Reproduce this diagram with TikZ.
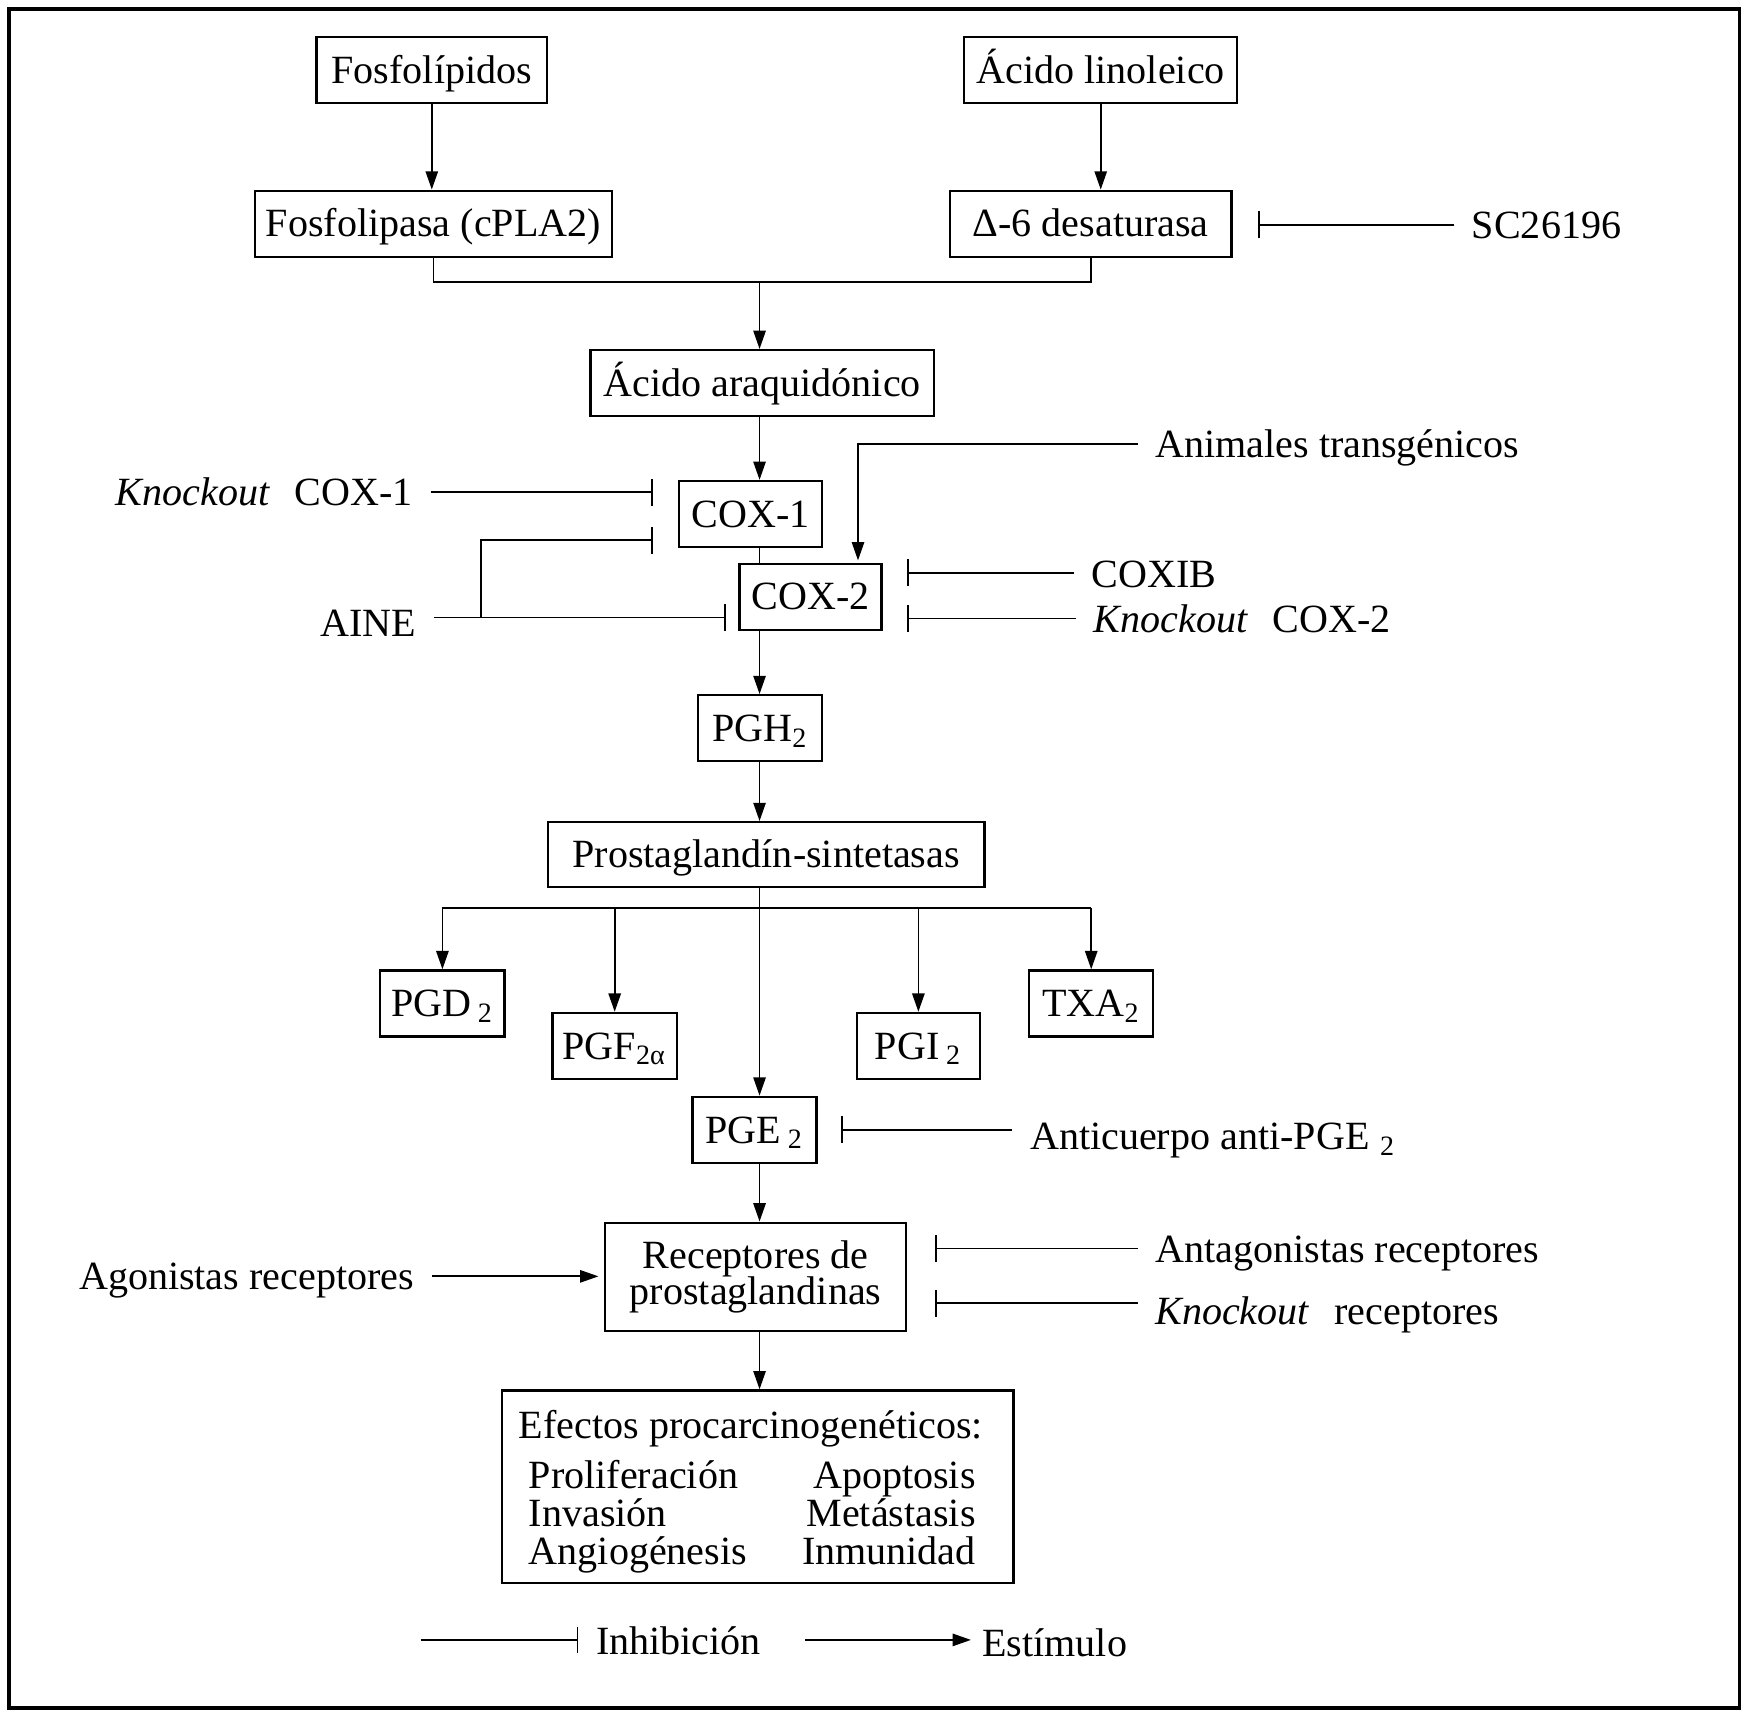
\documentclass[tikz,border=0pt]{standalone}
\usepackage{fontspec}
\setmainfont{Liberation Serif}
\usepackage{tikz}
\usetikzlibrary{arrows.meta}
\newlength{\pxunit}
\setlength{\pxunit}{0.011186cm}
\tikzset{
    box_style/.style={
        draw=black,            % borde de la caja
        line width=0.65pt,     % borde algo mas grueso que las flechas
        inner sep=0pt,
        minimum height=59\pxunit,
        text height=7.5pt,     % centra las mayusculas en la caja
        text depth=0pt
    },
    big_box/.style={
        draw=black,
        line width=0.65pt,
        inner sep=0pt
    },
    label_style/.style={
        inner xsep=4.8pt,      % hueco entre texto y linea
        inner ysep=0pt,
        text height=7.5pt,
        text depth=0pt
    },
    stim_arrow/.style={
        -{Triangle[length=5.2pt,width=3.5pt]}  % estimulo
    },
    inhib_arrow/.style={
        -{Bar[width=7.6pt]}                    % inhibicion
    }
}

\begin{document}
\begin{tikzpicture}[x=0.011186cm, y=-0.011186cm, line width=0.5pt,
    font=\fontsize{11.4}{13}\selectfont]
    \useasboundingbox (0,0) rectangle (1568,1537);
    \draw[line width=1.1pt] (8,8) rectangle (1555,1527);   % marco

    % 1. Cajas de la ruta principal
    \node[box_style, minimum width=206\pxunit] (fosfo) at (386,62.5) {Fosfolípidos};
    \node[box_style, minimum width=244\pxunit] (linol) at (984,62.5) {Ácido linoleico};
    \node[box_style, minimum width=319\pxunit] (cpla) at (387.5,200) {Fosfolipasa (cPLA2)};
    \node[box_style, minimum width=252\pxunit] (desat) at (975,200) {Δ-6 desaturasa};
    \node[box_style, minimum width=307\pxunit] (araq) at (681.5,342.5) {Ácido araquidónico};
    \node[box_style, minimum width=128\pxunit] (cox1) at (671,459.5) {COX-1};
    \node[box_style, minimum width=127\pxunit] (cox2) at (724.5,533.5) {COX-2};
    \node[box_style, minimum width=111\pxunit] (pgh) at (679.5,651) {PGH\textsubscript{2}};
    \node[box_style, minimum width=390\pxunit, minimum height=58\pxunit] (sint) at (685,764) {Prostaglandín-sintetasas};
    \node[box_style, minimum width=111\pxunit] (pgd) at (395.5,897) {PGD\,\textsubscript{2}};
    \node[box_style, minimum width=111\pxunit] (pgf) at (549.5,935) {PGF\textsubscript{2α}};
    \node[box_style, minimum width=110\pxunit] (pgi) at (821,935) {PGI\,\textsubscript{2}};
    \node[box_style, minimum width=111\pxunit] (txa) at (975.5,897) {TXA\textsubscript{2}};
    \node[box_style, minimum width=111\pxunit] (pge) at (674.5,1010) {PGE\,\textsubscript{2}};
    \node[big_box, minimum width=269\pxunit, minimum height=97\pxunit, align=center,
        font=\fontsize{11.4}{10.5}\selectfont] (recep) at (675.5,1141.5) {Receptores de\\prostaglandinas};
    \node[big_box, minimum width=457\pxunit, minimum height=172\pxunit] (efect) at (677.5,1329) {};

    % 2. Texto de la caja de efectos
    \node[anchor=base west, inner sep=0pt] (eftit) at (463,1286) {Efectos procarcinogenéticos:};
    \node[anchor=base west, inner sep=0pt] (prolif) at (472,1331) {Proliferación};
    \node[anchor=base west, inner sep=0pt] (invas) at (472,1365) {Invasión};
    \node[anchor=base west, inner sep=0pt] (angio) at (472,1399) {Angiogénesis};
    \node[anchor=base east, inner sep=0pt] (apopt) at (873,1331) {Apoptosis};
    \node[anchor=base east, inner sep=0pt] (metas) at (873,1365) {Metástasis};
    \node[anchor=base east, inner sep=0pt] (inmun) at (873,1399) {Inmunidad};

    % 3. Moduladores (texto libre)
    \node[label_style, anchor=west] (sc) at (1300,201) {SC26196};
    \node[label_style, anchor=west] (anim) at (1017,397) {Animales transgénicos};
    \node[label_style, anchor=east] (kocox1) at (385,440) {\textit{Knockout}\hspace{7pt}COX-1};
    \node[label_style, anchor=east] (aine) at (388,557) {AINE};
    \node[label_style, anchor=west] (coxib) at (960,513) {COXIB};
    \node[label_style, anchor=west] (kocox2) at (962,554) {\textit{Knockout}\hspace{7pt}COX-2};
    \node[label_style, anchor=west] (antipge) at (905,1016) {Anticuerpo anti-PGE\hspace{3pt}\textsubscript{2}};
    \node[label_style, anchor=east] (agon) at (386,1141) {Agonistas receptores};
    \node[label_style, anchor=west] (antag) at (1017,1117) {Antagonistas receptores};
    \node[label_style, anchor=west] (korec) at (1017,1172) {\textit{Knockout}\hspace{7pt}receptores};

    % 4. Leyenda
    \coordinate (leginh) at (376,1466);
    \coordinate (legest) at (720,1466);
    \node[label_style, anchor=west] (inhtxt) at (517,1467) {Inhibición};
    \node[label_style, anchor=west, inner xsep=3pt] (esttxt) at (868,1469) {Estímulo};

    % 5. Conexiones de la ruta principal
    \coordinate (merge) at (679,252);
    \coordinate (fork) at (679,812);
    \draw[stim_arrow] (fosfo.south) -- (fosfo.south |- cpla.north);
    \draw[stim_arrow] (linol.south) -- (linol.south |- desat.north);
    \draw (cpla.south) |- (merge) -| (desat.south);
    \draw[stim_arrow] (merge) -- (merge |- araq.north);
    \draw[stim_arrow] (araq.south -| merge) -- (cox1.north -| merge);
    \draw (cox1.south -| merge) -- (cox2.north -| merge);
    \draw[stim_arrow] (cox2.south -| merge) -- (pgh.north -| merge);
    \draw[stim_arrow] (pgh.south -| merge) -- (sint.north -| merge);
    \draw[stim_arrow] (sint.south -| merge) -- (pge.north -| merge);
    \draw (pgd.north |- fork) -- (txa.north |- fork);
    \draw[stim_arrow] (pgd.north |- fork) -- (pgd.north);
    \draw[stim_arrow] (pgf.north |- fork) -- (pgf.north);
    \draw[stim_arrow] (pgi.north |- fork) -- (pgi.north);
    \draw[stim_arrow] (txa.north |- fork) -- (txa.north);
    \draw[stim_arrow] (pge.south -| merge) -- (recep.north -| merge);
    \draw[stim_arrow] (recep.south -| merge) -- (efect.north -| merge);

    % 6. Inhibiciones y estimulos externos
    \coordinate (ainefork) at (430,552);
    \coordinate (aineup) at (430,483);
    \draw[inhib_arrow, shorten >=23\pxunit] (sc.west) -- (sc.west -| desat.east);
    \draw[inhib_arrow, shorten >=22\pxunit] (kocox1.east) -- (kocox1.east -| cox1.west);
    \draw[inhib_arrow, shorten >=11\pxunit] (aine.east |- ainefork) -- (ainefork -| cox2.west);
    \draw[inhib_arrow, shorten >=22\pxunit] (ainefork) -- (aineup) -- (aineup -| cox1.west);
    \draw[stim_arrow, shorten >=2\pxunit] (anim.west) -| ([xshift=-22\pxunit]cox2.north east);
    \draw[inhib_arrow, shorten >=22\pxunit] ([yshift=1\pxunit]coxib.west) -- ([yshift=1\pxunit]coxib.west -| cox2.east);
    \draw[inhib_arrow, shorten >=22\pxunit] ([yshift=1\pxunit]kocox2.west) -- ([yshift=1\pxunit]kocox2.west -| cox2.east);
    \draw[inhib_arrow, shorten >=21\pxunit] (antipge.west |- pge.east) -- (pge.east);
    \draw[stim_arrow, shorten >=5\pxunit] (agon.east) -- (agon.east -| recep.west);
    \draw[inhib_arrow, shorten >=25\pxunit] ([yshift=1\pxunit]antag.west) -- ([yshift=1\pxunit]antag.west -| recep.east);
    \draw[inhib_arrow, shorten >=25\pxunit] ([yshift=7\pxunit]korec.west) -- ([yshift=7\pxunit]korec.west -| recep.east);
    \draw[inhib_arrow] (leginh) -- (leginh -| inhtxt.west);
    \draw[stim_arrow] (legest) -- (legest -| esttxt.west);
\end{tikzpicture}
\end{document}
